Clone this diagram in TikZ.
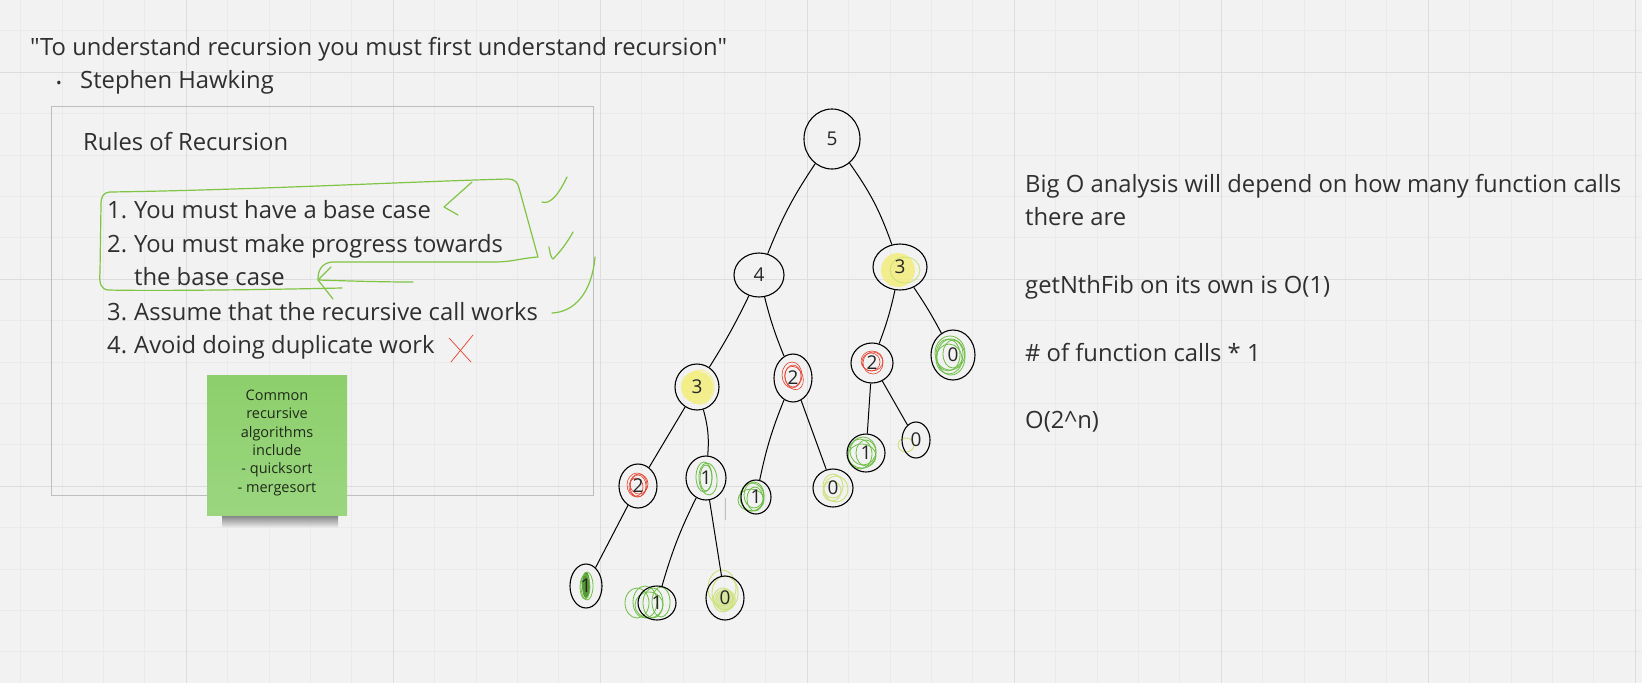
\documentclass[tikz,border=0pt]{standalone}
\usepackage{fontspec}
\setmainfont{Open Sans}[Ligatures=TeXOff]
\usetikzlibrary{shapes.geometric}
\definecolor{bgc}{HTML}{F2F2F2}
\definecolor{gridminc}{HTML}{EAEAEA}
\definecolor{gridmajc}{HTML}{DDDDDD}
\definecolor{boxc}{HTML}{BEBEBE}
\definecolor{txtc}{HTML}{2F2F2F}
\definecolor{penc}{HTML}{80C444}
\definecolor{scrgreen}{HTML}{6DBE45}
\definecolor{ylwgreen}{HTML}{CDE27C}
\definecolor{scrred}{HTML}{E5412F}
\definecolor{hly}{HTML}{F4EE7C}
\definecolor{stickytop}{HTML}{8DCF6C}
\definecolor{stickybot}{HTML}{9BD67F}
\definecolor{stickytxt}{HTML}{1F2A1A}
\pgfdeclarelayer{back}
\pgfdeclarelayer{mid}
\pgfsetlayers{back,mid,main}
\begin{document}
\begin{tikzpicture}[x=1pt,y=-1pt,
  gridmin/.style={draw=gridminc, line width=0.6pt},
  gridmaj/.style={draw=gridmajc, line width=0.9pt},
  body/.style={anchor=base west, text=txtc, inner sep=0pt, font=\fontsize{23.8}{28}\selectfont},
  tn/.style={ellipse, draw=black, line width=1.1pt, inner sep=0pt, text=black!85, font=\fontsize{19}{19}\selectfont},
  edge/.style={draw=black, line width=1pt},
  pen/.style={draw=penc, line width=1.2pt, line cap=round, line join=round},
  redpen/.style={draw=scrred, line width=0.7pt, line cap=round},
  scrg/.style={draw=scrgreen, line width=0.8pt},
  scry/.style={draw=ylwgreen, line width=0.9pt},
  scrr/.style={draw=scrred, line width=0.6pt},
  hl/.style={fill=hly, opacity=0.85},
]
\useasboundingbox (0,0) rectangle (1642,683);
\begin{pgfonlayer}{back}
\fill[bgc] (0,0) rectangle (1642,683);
\foreach \i in {0,...,40} \draw[gridmin] ({-21+41.4*\i},0) -- ({-21+41.4*\i},683);
\foreach \i in {0,...,20} \draw[gridmin] (0,{-135+41.4*\i}) -- (1642,{-135+41.4*\i});
\foreach \i in {0,...,8} \draw[gridmaj] ({-21+207*\i},0) -- ({-21+207*\i},683);
\foreach \i in {0,...,3} \draw[gridmaj] (0,{72+207*\i}) -- (1642,{72+207*\i});
\end{pgfonlayer}

% quote
\node[body] (quote) at (30,55) {"To understand recursion you must first understand recursion"};
\node[anchor=base west, inner sep=0pt, text=txtc, font=\fontsize{15}{15}\selectfont] (bul) at (56,88) {•};
\node[body] (author) at (80,88) {Stephen Hawking};

% rules box
\node[draw=boxc, line width=0.8pt, minimum width=542, minimum height=389, inner sep=0pt] (rules) at (322,300.5) {};
\node[body] (rtitle) at (83,150) {Rules of Recursion};
\node[body] (r1) at (107,218) {\makebox[27pt][l]{1.}You must have a base case};
\node[body] (r2) at (107,252) {\makebox[27pt][l]{2.}You must make progress towards};
\node[body] (r2b) at (134,285) {the base case};
\node[body] (r3) at (107,320) {\makebox[27pt][l]{3.}Assume that the recursive call works};
\node[body] (r4) at (107,353) {\makebox[27pt][l]{4.}Avoid doing duplicate work};

% sticky note
\shade[top color=black!70, bottom color=bgc, opacity=0.75] (222,514) rectangle (338,528);
\node[top color=stickytop, bottom color=stickybot, minimum width=140, minimum height=140, inner sep=0pt] (note) at (277,445) {};
\node[anchor=north, align=center, inner sep=0pt, text=stickytxt, font=\fontsize{14.5}{18.4}\selectfont] (notetxt) at (277,389.5) {Common\\recursive\\algorithms\\include\\- quicksort\\- mergesort};

% right text
\node[body] (b1) at (1025,192) {Big O analysis will depend on how many function calls};
\node[body] (b2) at (1025,225) {there are};
\node[body] (b3) at (1025,293) {getNthFib on its own is O(1)};
\node[body] (b4) at (1025,361) {\# of function calls * 1};
\node[body] (b5) at (1025,428) {O(2\^{}n)};

% green pen annotations
\draw[pen] (342,288) .. controls (250,290) and (150,291) .. (108,290) .. controls (101,289) and (99,284) .. (100,272) -- (101,205) .. controls (101,196) and (103,193) .. (110,192) .. controls (250,190) and (400,182) .. (508,179) .. controls (514,179) and (518,182) .. (519,188) -- (538,257) .. controls (522,258) and (512,262) .. (495,262) -- (332,262) .. controls (322,263) and (318,270) .. (318,279);
\draw[pen] (331,267) -- (318,280) -- (333,299);
\draw[pen] (318,280) .. controls (350,281) and (380,282) .. (413,282);
\draw[pen] (472,182) -- (444,207) -- (458,215);
\draw[pen] (542,202) .. controls (548,204) and (556,200) .. (567,177);
\draw[pen] (549,247) .. controls (550,253) and (551,258) .. (553,259) .. controls (560,252) and (567,243) .. (573,232);
\draw[pen] (552,313) .. controls (575,312) and (592,292) .. (595,257);
\draw[redpen] (449,338) -- (471,362);
\draw[redpen] (473,335) -- (451,362);

% tree nodes
\node[tn, minimum width=56, minimum height=60] (n5) at (832,139) {5};
\node[tn, minimum width=50, minimum height=44] (n4) at (759,275) {4};
\node[tn, minimum width=54, minimum height=46] (n3r) at (900,267) {3};
\node[tn, minimum width=44, minimum height=46] (n3l) at (697,387) {3};
\node[tn, minimum width=38, minimum height=48] (n2m) at (793,378) {2};
\node[tn, minimum width=42, minimum height=40] (n2r) at (872,363) {2};
\node[tn, minimum width=44, minimum height=50] (n0r) at (953,355) {0};
\node[tn, minimum width=38, minimum height=44] (n2ll) at (638,486) {2};
\node[tn, minimum width=40, minimum height=44] (n1l) at (706,478) {1};
\node[tn, minimum width=30, minimum height=34] (n1m) at (756,497) {1};
\node[tn, minimum width=40, minimum height=38] (n0m) at (833,488) {0};
\node[tn, minimum width=38, minimum height=38] (n1r) at (866,453) {1};
\node[tn, minimum width=28, minimum height=36] (n0rr) at (916,440) {0};
\node[tn, minimum width=32, minimum height=44] (n1a) at (586,586) {1};
\node[tn, minimum width=38, minimum height=34] (n1b) at (657,603) {1};
\node[tn, minimum width=38, minimum height=44] (n0c) at (725,598) {0};

% scribbles
\begin{pgfonlayer}{mid}
\fill[hl] ([shift={(-2,3)}]n3r.center) circle (17);
\draw[scry] ([shift={(5,3)}]n3r.center) ellipse [x radius=15, y radius=13];
\fill[hl] (n3l.center) circle (16);
\draw[draw=hly, line width=0.9pt] ([shift={(3,0)}]n3l.center) ellipse [x radius=14, y radius=17];
\draw[draw=hly, line width=0.9pt] ([shift={(2,2)}]n3l.center) ellipse [x radius=12, y radius=15];
\draw[scrr] ([shift={(-1,-3)}]n2m.center) ellipse [x radius=10, y radius=13];
\draw[scrr] ([shift={(0,-2)}]n2m.center) ellipse [x radius=8, y radius=11];
\draw[scrr] ([shift={(1,0)}]n2m.center) ellipse [x radius=9, y radius=12, rotate=20];
\draw[scrr] ([shift={(0,-2)}]n2r.center) ellipse [x radius=11, y radius=10];
\draw[scrr] ([shift={(-1,-1)}]n2r.center) ellipse [x radius=9, y radius=9];
\draw[scrr] ([shift={(1,0)}]n2r.center) ellipse [x radius=10, y radius=11];
\draw[scrr] ([shift={(-1,-1)}]n2ll.center) ellipse [x radius=10, y radius=12];
\draw[scrr] (n2ll.center) ellipse [x radius=8, y radius=11];
\draw[scrr] ([shift={(1,-2)}]n2ll.center) ellipse [x radius=9, y radius=10];
\draw[scrr] ([shift={(-2,1)}]n2ll.center) ellipse [x radius=7, y radius=9];
\draw[scrg] ([shift={(-3,-2)}]n0r.center) ellipse [x radius=15, y radius=17];
\draw[scrg] ([shift={(-5,0)}]n0r.center) ellipse [x radius=12, y radius=16];
\draw[scrg] ([shift={(-2,2)}]n0r.center) ellipse [x radius=14, y radius=18];
\draw[scrg] ([shift={(0,-1)}]n0r.center) ellipse [x radius=10, y radius=14];
\draw[scrg] ([shift={(-4,4)}]n0r.center) ellipse [x radius=13, y radius=15];
\draw[scrg] ([shift={(-2,-1)}]n1l.center) ellipse [x radius=8, y radius=15];
\draw[scrg] (n1l.center) ellipse [x radius=6, y radius=13];
\draw[scrg] ([shift={(2,1)}]n1l.center) ellipse [x radius=9, y radius=16, rotate=5];
\draw[scrg] ([shift={(-4,0)}]n1m.center) ellipse [x radius=12, y radius=14];
\draw[scrg] ([shift={(-2,-2)}]n1m.center) ellipse [x radius=10, y radius=13];
\draw[scrg] ([shift={(-5,3)}]n1m.center) ellipse [x radius=13, y radius=11];
\draw[scrg] ([shift={(-1,2)}]n1m.center) ellipse [x radius=8, y radius=12];
\draw[scry] ([shift={(0,-2)}]n0m.center) ellipse [x radius=10, y radius=12];
\draw[scry] ([shift={(3,1)}]n0m.center) ellipse [x radius=12, y radius=13];
\draw[scry] ([shift={(-1,3)}]n0m.center) ellipse [x radius=9, y radius=10];
\draw[scrg] ([shift={(-3,-2)}]n1r.center) ellipse [x radius=13, y radius=14];
\draw[scrg] ([shift={(-6,1)}]n1r.center) ellipse [x radius=12, y radius=15];
\draw[scrg] (n1r.center) ellipse [x radius=10, y radius=13];
\draw[scrg] ([shift={(-4,3)}]n1r.center) ellipse [x radius=14, y radius=12];
\draw[scry] ([shift={(-10,5)}]n0rr.center) ellipse [x radius=8, y radius=7];
\fill[scrgreen!80!black] ([shift={(0,-1)}]n1a.center) ellipse [x radius=4, y radius=13];
\draw[scrg] ([shift={(1,0)}]n1a.center) ellipse [x radius=6, y radius=14];
\draw[scrg] ([shift={(-1,1)}]n1a.center) ellipse [x radius=5, y radius=12];
\draw[scrg] ([shift={(-20,0)}]n1b.center) ellipse [x radius=12, y radius=15];
\draw[scrg] ([shift={(-12,-1)}]n1b.center) ellipse [x radius=12, y radius=16];
\draw[scrg] ([shift={(-4,0)}]n1b.center) ellipse [x radius=10, y radius=15];
\draw[scrg] ([shift={(4,-1)}]n1b.center) ellipse [x radius=9, y radius=15];
\draw[scrg] ([shift={(-8,2)}]n1b.center) ellipse [x radius=14, y radius=13];
\fill[ylwgreen, opacity=0.7] ([shift={(0,2)}]n0c.center) circle (11);
\draw[scry] ([shift={(-3,-10)}]n0c.center) ellipse [x radius=14, y radius=18];
\draw[scry] ([shift={(0,-5)}]n0c.center) ellipse [x radius=13, y radius=17];
\draw[scry] ([shift={(-2,2)}]n0c.center) ellipse [x radius=10, y radius=12];
\end{pgfonlayer}

% tree edges
\draw[edge] (n5) to[bend right=6] (n4);
\draw[edge] (n5) to[bend left=8] (n3r);
\draw[edge] (n4) to[bend left=3] (n3l);
\draw[edge] (n4) to[bend right=4] (n2m);
\draw[edge] (n3r) to[bend left=4] (n2r);
\draw[edge] (n3r) to[bend left=3] (n0r);
\draw[edge] (n3l) -- (n2ll);
\draw[edge] (n3l) to[bend left=10] (n1l);
\draw[edge] (n2m) to[bend right=5] (n1m);
\draw[edge] (n2m) -- (n0m);
\draw[edge] (n2r) -- (n1r);
\draw[edge] (n2r) -- (n0rr);
\draw[edge] (n2ll) -- (n1a);
\draw[edge] (n1l) to[bend right=5] (n1b);
\draw[edge] (n1l) -- (n0c);
\coordinate (mk1) at (725,498);
\coordinate (mk2) at (725,520);
\draw[draw=boxc, line width=0.8pt] (mk1) -- (mk2);
\end{tikzpicture}
\end{document}
